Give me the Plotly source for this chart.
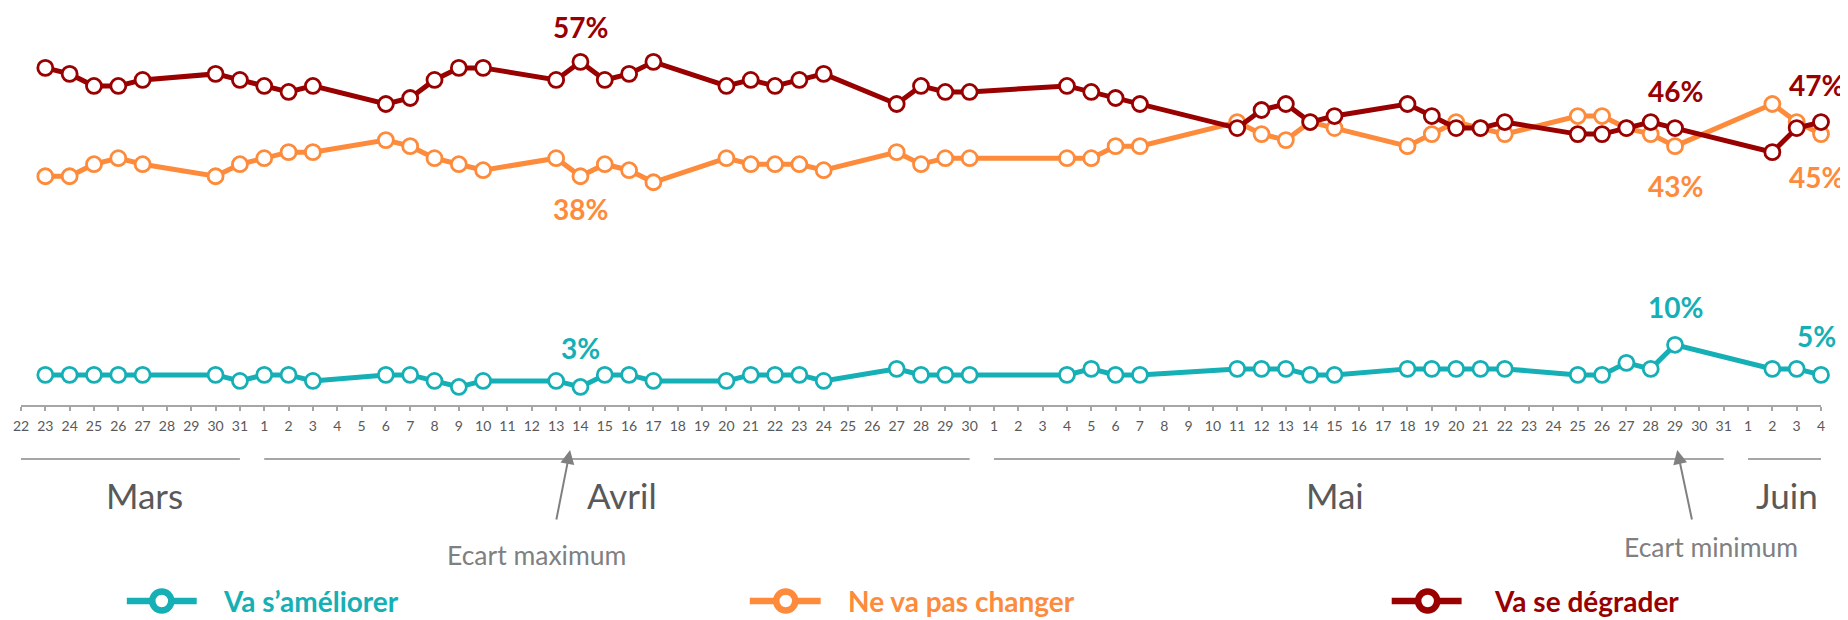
import pandas as pd
import plotly.graph_objects as go

# ---------------- data ----------------
dates = [
    "2020-03-23", "2020-03-24", "2020-03-25", "2020-03-26", "2020-03-27", "2020-03-30", "2020-03-31",
    "2020-04-01", "2020-04-02", "2020-04-03",
    "2020-04-06", "2020-04-07", "2020-04-08", "2020-04-09", "2020-04-10",
    "2020-04-13", "2020-04-14", "2020-04-15", "2020-04-16", "2020-04-17",
    "2020-04-20", "2020-04-21", "2020-04-22", "2020-04-23", "2020-04-24",
    "2020-04-27", "2020-04-28", "2020-04-29", "2020-04-30",
    "2020-05-04", "2020-05-05", "2020-05-06", "2020-05-07",
    "2020-05-11", "2020-05-12", "2020-05-13", "2020-05-14", "2020-05-15",
    "2020-05-18", "2020-05-19", "2020-05-20", "2020-05-21", "2020-05-22",
    "2020-05-25", "2020-05-26", "2020-05-27", "2020-05-28", "2020-05-29",
    "2020-06-02", "2020-06-03", "2020-06-04",
]

va_se_degrader = [
    56, 55, 53, 53, 54, 55, 54,
    53, 52, 53,
    50, 51, 54, 56, 56,
    54, 57, 54, 55, 57,
    53, 54, 53, 54, 55,
    50, 53, 52, 52,
    53, 52, 51, 50,
    46, 49, 50, 47, 48,
    50, 48, 46, 46, 47,
    45, 45, 46, 47, 46,
    42, 46, 47,
]

ne_va_pas_changer = [
    38, 38, 40, 41, 40, 38, 40,
    41, 42, 42,
    44, 43, 41, 40, 39,
    41, 38, 40, 39, 37,
    41, 40, 40, 40, 39,
    42, 40, 41, 41,
    41, 41, 43, 43,
    47, 45, 44, 47, 46,
    43, 45, 47, 46, 45,
    48, 48, 46, 45, 43,
    50, 47, 45,
]

va_s_ameliorer = [
    5, 5, 5, 5, 5, 5, 4,
    5, 5, 4,
    5, 5, 4, 3, 4,
    4, 3, 5, 5, 4,
    4, 5, 5, 5, 4,
    6, 5, 5, 5,
    5, 6, 5, 5,
    6, 6, 6, 5, 5,
    6, 6, 6, 6, 6,
    5, 5, 7, 6, 10,
    6, 6, 5,
]

series_names = ["Va s\u2019améliorer", "Ne va pas changer", "Va se dégrader"]
labelled_dates = ["2020-04-14", "2020-05-29", "2020-06-04"]

axis_start = "2020-03-22"
axis_end = "2020-06-04"

months = [
    ("Mars", "2020-03-22", "2020-03-31"),
    ("Avril", "2020-04-01", "2020-04-30"),
    ("Mai", "2020-05-01", "2020-05-31"),
    ("Juin", "2020-06-01", "2020-06-04"),
]

annot_texts = ["Ecart maximum", "Ecart minimum"]

# ---------------- style ----------------
TEAL = "#15AFB6"
ORANGE = "#FD8B3B"
RED = "#990000"
GRAY_LINE = "#A6A6A6"
GRAY_TXT = "#595959"
GRAY_ANN = "#808080"
FONT = "Lato"

OFF = 8  # page body margin
W, H = 1840, 612
ML, MR, MT, MB = 10, 27, 5, 215
PW = W - ML - MR
PH = H - MT - MB


def px_to_paper_x(px):  # px in page coordinates
    return (px - OFF - ML) / PW


def px_to_paper_y(py):
    return (H - MB - (py - OFF)) / PH


fig = go.Figure()

series = [
    (va_s_ameliorer, TEAL, series_names[0]),
    (ne_va_pas_changer, ORANGE, series_names[1]),
    (va_se_degrader, RED, series_names[2]),
]

for vals, col, name in series:
    fig.add_trace(go.Scatter(
        x=dates, y=vals, name=name, mode="lines+markers",
        line=dict(color=col, width=5),
        marker=dict(symbol="circle", size=15, color="white",
                    line=dict(color=col, width=2.8)),
        cliponaxis=False, showlegend=False,
    ))

# data labels
label_offsets = {
    0: [-39, -38, -39],   # teal: above
    1: [33, 40, 43],      # orange: below
    2: [-35, -37, -37],   # red: above
}
annotations = []
for si, (vals, col, name) in enumerate(series):
    for li, d in enumerate(labelled_dates):
        v = vals[dates.index(d)]
        annotations.append(dict(
            x=d, y=v, xref="x", yref="y", text=f"{v}%", showarrow=False,
            yshift=-label_offsets[si][li], xshift=(-5 if d == labelled_dates[-1] else 0),
            font=dict(family=FONT, size=28, color=col, weight=700),
        ))

# month separator lines and labels
shapes = []
sep_y = px_to_paper_y(459)
for name, d0, d1 in months:
    shapes.append(dict(type="line", xref="x", yref="paper", x0=d0, x1=d1,
                       y0=sep_y, y1=sep_y, line=dict(color=GRAY_LINE, width=2)))
month_centers = {"Mars": 142, "Avril": 620, "Mai": 1334, "Juin": 1787}
for name, d0, d1 in months:
    annotations.append(dict(
        x=px_to_paper_x(month_centers[name]), y=px_to_paper_y(495),
        xref="paper", yref="paper", text=name, showarrow=False,
        xanchor="center", yanchor="middle",
        font=dict(family=FONT, size=35, color=GRAY_TXT),
    ))

# Ecart annotations (arrows + text)
arrows = [((568, 450), (554, 521), (534, 555)), ((1677, 450), (1692, 521), (1711, 547))]
for (tip, tail, txt), t in zip(arrows, annot_texts):
    annotations.append(dict(
        x=px_to_paper_x(tip[0]), y=px_to_paper_y(tip[1]), xref="paper", yref="paper",
        text="", showarrow=True, arrowhead=2, arrowsize=1.4, arrowwidth=2,
        arrowcolor=GRAY_ANN, ax=tail[0] - tip[0], ay=tail[1] - tip[1], standoff=0,
    ))
    annotations.append(dict(
        x=px_to_paper_x(txt[0]), y=px_to_paper_y(txt[1]), xref="paper", yref="paper",
        text=t, showarrow=False, xanchor="center", yanchor="middle",
        font=dict(family=FONT, size=26.5, color=GRAY_ANN),
    ))

# custom legend
legend_items = [(124, 194, 159, 218), (748, 819, 784, 844), (1391, 1461, 1427, 1491)]
ly = px_to_paper_y(601)
for (x0, x1, xc, xt), (vals, col, name) in zip(legend_items, series):
    shapes.append(dict(type="line", xref="paper", yref="paper",
                       x0=px_to_paper_x(x0), x1=px_to_paper_x(x1), y0=ly, y1=ly,
                       line=dict(color=col, width=6.5)))
    shapes.append(dict(type="circle", xref="paper", yref="paper",
                       xsizemode="pixel", ysizemode="pixel",
                       xanchor=px_to_paper_x(xc), yanchor=ly,
                       x0=-9.5, x1=9.5, y0=-9.5, y1=9.5,
                       fillcolor="white", line=dict(color=col, width=6.5)))
    annotations.append(dict(
        x=px_to_paper_x(xt), y=ly, xref="paper", yref="paper", text=name,
        showarrow=False, xanchor="left", yanchor="middle",
        font=dict(family=FONT, size=28, color=col, weight=700),
    ))

all_days = pd.date_range(axis_start, axis_end, freq="D")
fig.update_xaxes(
    type="date", range=[axis_start, axis_end],
    tickmode="array", tickvals=[d.strftime("%Y-%m-%d") for d in all_days],
    ticktext=[str(d.day) for d in all_days],
    showline=True, linecolor=GRAY_LINE, linewidth=2,
    ticks="outside", ticklen=4, tickwidth=2, tickcolor=GRAY_LINE,
    showgrid=False, zeroline=False,
    tickfont=dict(family=FONT, size=14, color=GRAY_TXT),
    ticklabelstandoff=3,
)
fig.update_yaxes(range=[0, PH / 6.02], visible=False, showgrid=False, zeroline=False)

fig.update_layout(
    width=W, height=H,
    margin=dict(l=ML, r=MR, t=MT, b=MB),
    plot_bgcolor="white", paper_bgcolor="white",
    shapes=shapes, annotations=annotations, showlegend=False,
    font=dict(family=FONT),
)

fig.write_html("out.html")
